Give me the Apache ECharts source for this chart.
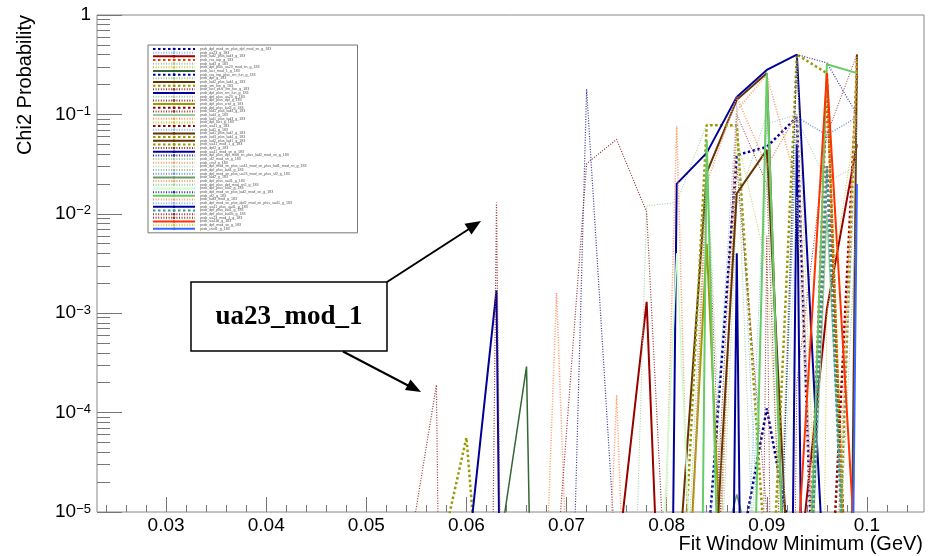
<!DOCTYPE html>
<html>
<head>
<meta charset="utf-8">
<script src="https://cdn.jsdelivr.net/npm/echarts@6/dist/echarts.min.js"></script>
<style>
html,body{margin:0;padding:0;background:#fff;}
#chart{width:929px;height:556px;}
</style>
</head>
<body>
<div id="chart"></div>
<script>
// ---------------- data ----------------
const Z = 1e-30; // probability below the plotted range
const xValues = [0.054, 0.057, 0.060, 0.063, 0.066, 0.069, 0.072, 0.075, 0.078, 0.081, 0.084, 0.087, 0.090, 0.093, 0.096, 0.099];
const xTickLabels = [0.03, 0.04, 0.05, 0.06, 0.07, 0.08, 0.09, 0.10];
const xMinorTicks = [0.024,0.026,0.028,0.032,0.034,0.036,0.038,0.042,0.044,0.046,0.048,0.052,0.054,0.056,0.058,0.062,0.064,0.066,0.068,0.072,0.074,0.076,0.078,0.082,0.084,0.086,0.088,0.092,0.094,0.096,0.098,0.102,0.104];
const yMinorTicks = [2e-5,3e-5,4e-5,5e-5,6e-5,7e-5,8e-5,9e-5,2e-4,3e-4,4e-4,5e-4,6e-4,7e-4,8e-4,9e-4,2e-3,3e-3,4e-3,5e-3,6e-3,7e-3,8e-3,9e-3,2e-2,3e-2,4e-2,5e-2,6e-2,7e-2,8e-2,9e-2,0.2,0.3,0.4,0.5,0.6,0.7,0.8,0.9];

const seriesNames = [
 'prob_dpf_mod_sn_plus_dpf_mod_sn_g_183','prob_ua23_g_183','prob_lad2_plus_lad3_g_183','prob_rsa_top_g_183',
 'prob_lad3_g_183','prob_dpf_plus_ua23_mod_sn_g_183','prob_lact_mod_1_g_183','prob_rsa_top_plus_sm_fun_g_183',
 'prob_dpf_g_183','prob_lad2_plus_lad4_g_183','prob_sm_fun_g_183','prob_lact_plus_sm_fun_g_183',
 'prob_dpf_plus_sm_fun_g_183','prob_dpf_plus_ua23_g_183','prob_dpf_plus_dpf_g_183','prob_dpf_plus_crisf_g_183',
 'prob_dpf_plus_lad3_g_183','prob_lad1_plus_lad4_g_183','prob_lad4_g_183','prob_lad1_plus_lad3_g_183',
 'prob_dpf_lact_g_183','prob_ua41_g_183','prob_lad1_g_183','prob_lad1_plus_lad2_g_183',
 'prob_lad3_plus_lad4_g_183','prob_lad2_plus_lad1_g_183','prob_ua41_mod_1_g_183','prob_dpf2_g_183',
 'prob_ua41_mod_sn_g_183','prob_dpf_plus_dpf_mod_sn_plus_lad2_mod_sn_g_183','prob_sf2_mod_sn_g_183','prob_crisf_g_183',
 'prob_dpf_mod_sn_plus_ua41_mod_sn_plus_lad1_mod_sn_g_183','prob_dpf_plus_lad4_g_183','prob_dpf_mod_sn_plus_ua23_mod_sn_plus_sf2_g_183','prob_lad2_g_183',
 'prob_dpf_plus_ua41_g_183','prob_dpf_plus_dpf_mod_sn2_g_183','prob_dpf_plus_lad2_g_183','prob_dpf_mod_sn_plus_lad2_mod_sn_g_183',
 'prob_sf2_g_183','prob_lad3_mod_g_183','prob_dpf_mod_sn_plus_dpf2_mod_sn_plus_ua41_g_183','prob_ua41_plus_ua41_g_183',
 'prob_dpf_plus_lad1_g_183','prob_dpf_plus_lad2b_g_183','prob_ua23_mod_1_g_183','prob_ua41b_g_183',
 'prob_dpf_mod_sn_g_183','prob_crisf1_g_183'
];

const s01 = [Z,Z,Z,Z,Z,Z,Z,Z,Z,Z,3e-6,0.039,0.047,0.094,1e-10,Z];
const s02 = [Z,Z,Z,Z,Z,Z,Z,Z,Z,Z,2e-6,0.13,1e-7,Z,Z,Z];
const s03 = [Z,Z,Z,Z,Z,Z,Z,2.7e-6,1.3e-3,3e-11,Z,Z,Z,1.6e-6,1.1e-3,0.05];
const s04 = [Z,Z,Z,Z,Z,Z,Z,Z,Z,Z,Z,Z,Z,1e-9,0.2,1e-9];
const s05 = [Z,Z,Z,Z,Z,Z,Z,1e-12,0.012,0.013,0.08,0.075,1e-9,Z,Z,Z];
const s06 = [Z,Z,Z,Z,Z,Z,Z,Z,Z,Z,1e-9,0.06,3e-3,1e-8,Z,Z];
const s07 = [Z,Z,Z,2.7e-6,2.9e-4,1e-20,Z,Z,Z,Z,Z,Z,Z,Z,Z,Z];
const s08 = [Z,Z,Z,Z,Z,Z,Z,Z,Z,Z,Z,2.5e-6,1.1e-4,2.5e-6,Z,Z];
const s09 = [Z,Z,Z,Z,Z,Z,Z,Z,Z,Z,Z,Z,1e-9,0.09,0.021,0.03];
const s10 = [Z,Z,Z,Z,Z,Z,Z,Z,Z,1.5e-6,0.026,0.14,0.26,3e-10,Z,Z];
const s11 = [Z,2.5e-6,5.6e-5,1e-8,Z,Z,Z,Z,Z,1e-7,0.078,0.078,2e-6,Z,Z,Z];
const s12 = [Z,Z,Z,Z,Z,Z,Z,Z,Z,Z,Z,Z,Z,2e-4,0.062,0.4];
const s13 = [Z,Z,2.6e-6,1.7e-3,Z,Z,Z,Z,Z,0.02,0.041,0.15,0.28,0.4,6e-7,Z];
const s14 = [Z,Z,Z,Z,Z,Z,Z,Z,Z,Z,1e-9,0.012,0.1,1e-9,Z,Z];
const s15 = [Z,Z,Z,Z,Z,Z,Z,Z,Z,Z,1e-8,0.03,1e-5,Z,Z,Z];
const s16 = [Z,Z,Z,Z,Z,Z,Z,Z,Z,1e-8,5e-3,1e-9,Z,Z,Z,Z];
const s17 = [Z,Z,Z,Z,Z,Z,Z,Z,Z,Z,Z,Z,Z,Z,2e-7,0.25];
const s18 = [Z,Z,Z,Z,Z,Z,Z,Z,Z,Z,1e-7,0.1,0.02,1e-10,Z,Z];
const s19 = [Z,Z,Z,Z,Z,Z,Z,Z,Z,Z,Z,Z,Z,1e-9,0.01,1e-8];
const s20 = [Z,Z,Z,Z,Z,Z,Z,Z,Z,Z,1e-9,0.11,0.25,0.02,1e-9,Z];
const s21 = [Z,Z,Z,Z,Z,Z,Z,Z,Z,Z,Z,Z,1e-9,0.35,1e-8,Z];
const s22 = [Z,Z,Z,Z,Z,Z,Z,Z,Z,Z,Z,Z,Z,1e-9,0.03,1e-8];
const s23 = [Z,Z,Z,Z,Z,Z,Z,Z,Z,Z,Z,1e-8,0.08,0.1,1e-9,Z];
const s24 = [Z,Z,Z,Z,Z,Z,Z,Z,Z,Z,1e-7,0.016,0.044,4.5e-8,Z,Z];
const s25 = [Z,Z,Z,Z,Z,Z,Z,Z,Z,Z,Z,Z,1e-7,0.4,0.26,1e-9];
const s26 = [Z,Z,Z,Z,Z,Z,Z,Z,Z,Z,Z,Z,Z,Z,Z,0.4];
const s27 = [Z,Z,Z,Z,Z,Z,Z,Z,Z,Z,Z,Z,Z,Z,1e-9,0.35];
const s28 = [Z,Z,Z,Z,Z,Z,Z,Z,Z,1e-9,0.03,1e-9,Z,Z,Z,Z];
const s29 = [Z,Z,Z,Z,Z,Z,Z,Z,Z,Z,Z,Z,Z,0.05,Z,Z];
const s30 = [Z,Z,Z,Z,Z,1e-12,0.18,2.5e-6,Z,Z,Z,Z,Z,Z,Z,Z];
const s31 = [Z,Z,Z,Z,Z,Z,Z,Z,Z,1e-8,0.04,1e-8,Z,Z,Z,Z];
const s32 = [Z,Z,Z,Z,1e-11,1.6e-3,1e-11,1.5e-4,1e-12,0.076,1e-12,Z,Z,Z,Z,Z];
const s33 = [Z,Z,Z,Z,Z,Z,Z,Z,Z,Z,Z,Z,1e-9,0.015,1e-9,Z];
const s34 = [Z,Z,Z,Z,Z,Z,Z,Z,Z,Z,Z,Z,Z,Z,1e-8,0.012];
const s35 = [Z,Z,Z,Z,Z,Z,Z,Z,Z,Z,Z,Z,1e-9,0.094,0.062,0.094];
const s36 = [Z,Z,Z,Z,Z,Z,Z,Z,Z,Z,1e-6,1.5e-5,1e-6,Z,Z,Z];
const s37 = [Z,Z,Z,Z,Z,Z,Z,Z,Z,1e-9,0.02,0.15,0.03,0.1,1e-9,Z];
const s38 = [Z,Z,Z,Z,Z,Z,Z,Z,Z,Z,Z,1e-9,0.03,1e-9,Z,Z];
const s39 = [Z,Z,Z,Z,Z,Z,Z,Z,1e-9,0.004,1e-9,Z,Z,Z,Z,Z];
const s40 = [Z,Z,Z,Z,Z,Z,Z,Z,Z,Z,Z,Z,1e-10,0.4,0.33,0.1];
const s41 = [Z,Z,Z,Z,Z,Z,Z,Z,Z,Z,0.055,1e-13,0.26,2.5e-10,0.32,0.26];
const s42 = [Z,Z,Z,Z,Z,Z,Z,Z,Z,Z,Z,Z,Z,Z,1e-8,0.38];
const s43 = [Z,Z,Z,Z,Z,Z,Z,Z,Z,Z,Z,Z,Z,Z,1e-8,0.08];
const s44 = [Z,Z,Z,Z,Z,Z,Z,Z,Z,Z,Z,0.004,Z,Z,Z,Z];
const s45 = [Z,Z,Z,Z,Z,Z,Z,Z,Z,Z,Z,Z,Z,1e-9,0.03,1e-9];
const s46 = [Z,Z,Z,Z,Z,Z,Z,Z,Z,Z,Z,Z,0.006,Z,Z,Z];
const s47 = [2.7e-6,1.9e-4,Z,0.013,Z,2.9e-6,0.032,0.056,0.0104,1e-8,Z,Z,Z,Z,Z,Z];
const s48 = [Z,Z,Z,Z,Z,Z,Z,Z,Z,Z,Z,Z,Z,3e-6,0.26,2e-6];
const s49 = [Z,Z,Z,Z,Z,Z,Z,Z,Z,Z,Z,Z,Z,Z,1e-3,0.1];
const s50 = [Z,Z,Z,Z,Z,Z,Z,Z,Z,Z,Z,Z,Z,Z,Z,0.02];

const seriesValues = [s01,s02,s03,s04,s05,s06,s07,s08,s09,s10,s11,s12,s13,s14,s15,s16,s17,s18,s19,s20,
  s21,s22,s23,s24,s25,s26,s27,s28,s29,s30,s31,s32,s33,s34,s35,s36,s37,s38,s39,s40,
  s41,s42,s43,s44,s45,s46,s47,s48,s49,s50];

// ---------------- styles ----------------
const TD = [2.5,2.5];   // thick dotted
const FD = [1,1.6];     // fine dotted
const seriesStyles = [
 ['#000099',2.5,TD],['#88bbee',1,FD],['#990000',2,'solid'],['#ff3300',2.5,TD],
 ['#99cc99',1,FD],['#cccc55',1,FD],['#336633',1.5,'solid'],['#000099',2.5,TD],
 ['#99cc99',1,FD],['#663300',2,'solid'],['#999900',2.5,TD],['#993333',1,FD],
 ['#000099',2,'solid'],['#99cc99',1,FD],['#993333',1,FD],['#999900',2,'solid'],
 ['#990000',2.5,TD],['#993333',1,FD],['#99cc99',1.5,'solid'],['#ff9966',1.5,FD],
 ['#cccc33',1,FD],['#990000',2.5,TD],['#88bbee',1,FD],['#663300',2,'solid'],
 ['#999900',2.5,TD],['#663300',2,'solid'],['#999900',2.5,TD],['#993333',1,FD],
 ['#000099',2,'solid'],['#333399',1.2,FD],['#99cc99',1,FD],['#ff9966',1.5,FD],
 ['#bbddbb',1,FD],['#99bb99',1,FD],['#6699cc',1.5,FD],['#669966',1.5,'solid'],
 ['#ff9966',1.5,FD],['#99cc99',1,FD],['#ccffcc',1.5,'solid'],['#333399',1.2,FD],
 ['#66cc66',2,'solid'],['#ff9966',1.5,FD],['#88bbee',1,FD],['#000099',2,'solid'],
 ['#339999',2.5,TD],['#993333',1,FD],['#993333',1.2,FD],['#ff3300',2,'solid'],
 ['#cccc33',1,FD],['#3366ff',2,'solid']
];

// ---------------- chart ----------------
const FONT = 'Liberation Sans';
const chart = echarts.init(document.getElementById('chart'), null, {renderer:'canvas', width:929, height:556});

const series = seriesNames.map((name, i) => ({
  name: name,
  type: 'line',
  xAxisIndex: 0,
  yAxisIndex: 0,
  data: xValues.map((x, j) => [x, seriesValues[i][j]]),
  symbol: 'none',
  showSymbol: false,
  clip: true,
  animation: false,
  silent: true,
  lineStyle: {color: seriesStyles[i][0], width: seriesStyles[i][1], type: seriesStyles[i][2]},
  itemStyle: {color: seriesStyles[i][0]}
}));

function supLabel(v) {
  const e = Math.round(Math.log10(v));
  if (e === 0) return '{b|1}';
  return '{b|10}{s|\u2212' + (-e) + '}';
}

const option = {
  animation: false,
  backgroundColor: '#ffffff',
  textStyle: {fontFamily: FONT},
  grid: {left: 97, right: 5, top: 15, bottom: 44, show: true, borderColor: '#888', borderWidth: 1, containLabel: false},
  xAxis: [
    {
      type: 'value', min: 0.0231, max: 0.1057, position: 'bottom',
      axisLine: {show: false, onZero: false},
      splitLine: {show: false},
      axisTick: {show: true, inside: true, length: 15, lineStyle: {color: '#777'}, customValues: xTickLabels},
      axisLabel: {show: true, margin: 4, fontSize: 19, color: '#000', fontFamily: FONT,
        customValues: xTickLabels, formatter: v => String(+(+v).toFixed(2))}
    },
    {
      type: 'value', min: 0.0231, max: 0.1057, position: 'bottom', offset: 0,
      axisLine: {show: false, onZero: false}, splitLine: {show: false}, axisLabel: {show: false},
      axisTick: {show: true, inside: true, length: 7, lineStyle: {color: '#777'}, customValues: xMinorTicks}
    }
  ],
  yAxis: [
    {
      type: 'log', logBase: 10, min: 1e-5, max: 1, position: 'left',
      axisLine: {show: false, onZero: false}, splitLine: {show: false},
      axisTick: {show: true, inside: true, length: 25, lineStyle: {color: '#777'}},
      axisLabel: {show: true, margin: 6, color: '#000', fontFamily: FONT, formatter: supLabel,
        rich: {
          b: {fontSize: 19, fontFamily: FONT, color: '#000'},
          s: {fontSize: 13, fontFamily: FONT, color: '#000', verticalAlign: 'top', padding: [0,0,6,0]}
        }}
    },
    {
      type: 'value', min: -5, max: 0, position: 'left', offset: 0,
      axisLine: {show: false, onZero: false}, splitLine: {show: false}, axisLabel: {show: false},
      axisTick: {show: true, inside: true, length: 13, lineStyle: {color: '#777'}, customValues: yMinorTicks.map(v => Math.log10(v))}
    }
  ],
  legend: {
    show: true, orient: 'vertical', left: 148, top: 45,
    itemWidth: 42, itemHeight: 3.3, itemGap: -0.33,
    padding: [2, 51, 2, 4],
    backgroundColor: '#fff', borderColor: '#777', borderWidth: 1,
    selectedMode: false,
    textStyle: {fontSize: 3.6, lineHeight: 3.3, color: '#555', fontFamily: FONT, padding: 0},
    data: seriesNames
  },
  graphic: [
    {type: 'text', z: 100, x: 25, y: 15, rotation: Math.PI / 2,
      style: {text: 'Chi2 Probability', font: '20px "Liberation Sans"', fill: '#000', textAlign: 'right', textVerticalAlign: 'middle'}},
    {type: 'text', z: 100, x: 923, y: 544,
      style: {text: 'Fit Window Minimum (GeV)', font: '20px "Liberation Sans"', fill: '#000', textAlign: 'right', textVerticalAlign: 'middle'}},
    {type: 'rect', z: 100, shape: {x: 191, y: 282, width: 196, height: 69},
      style: {fill: '#fff', stroke: '#000', lineWidth: 1.5}},
    {type: 'text', z: 101, x: 289, y: 317,
      style: {text: 'ua23_mod_1', font: 'bold 27px "Liberation Serif"', fill: '#000', textAlign: 'center', textVerticalAlign: 'middle'}},
    {type: 'line', z: 100, shape: {x1: 387, y1: 282, x2: 469, y2: 229}, style: {stroke: '#000', lineWidth: 2}},
    {type: 'polygon', z: 100, shape: {points: [[481, 221], [471.5, 234.5], [464.5, 223.8]]}, style: {fill: '#000'}},
    {type: 'line', z: 100, shape: {x1: 343, y1: 351.5, x2: 409, y2: 386}, style: {stroke: '#000', lineWidth: 2}},
    {type: 'polygon', z: 100, shape: {points: [[421, 392], [405, 390], [410.5, 379.5]]}, style: {fill: '#000'}}
  ],
  series: series
};
chart.setOption(option);
</script>
</body>
</html>
